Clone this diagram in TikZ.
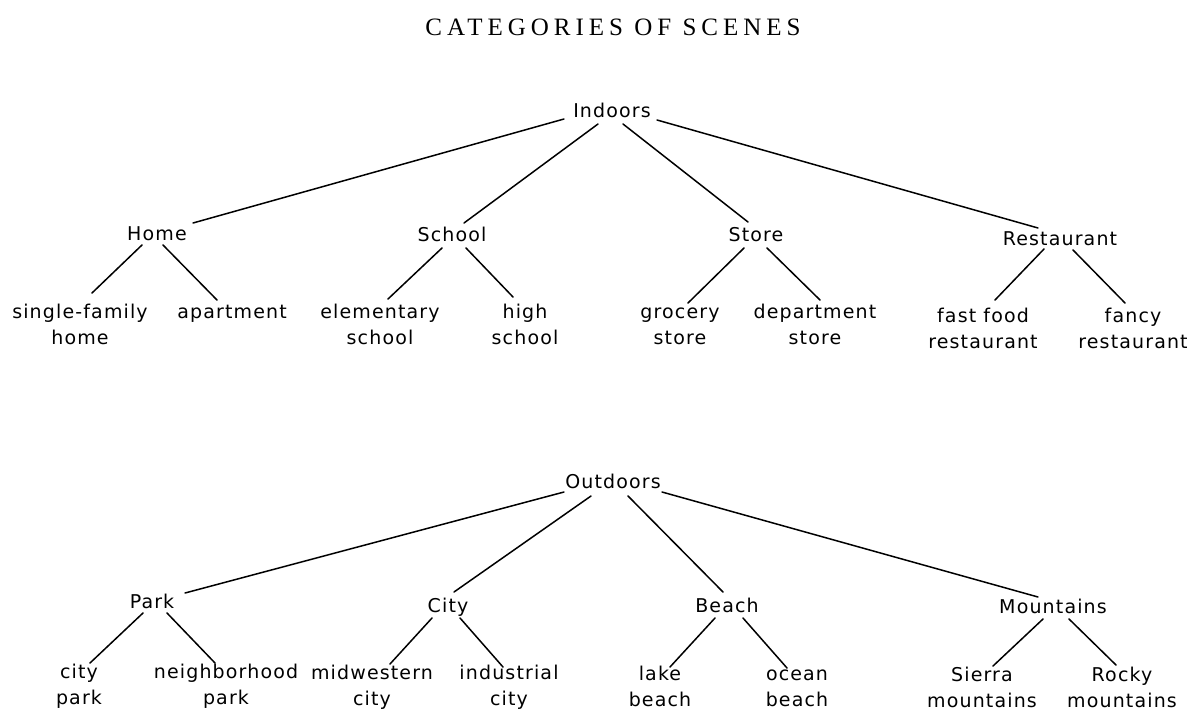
\documentclass[tikz,border=0pt]{standalone}
\usepackage{fontspec}
\newfontfamily\letteringfont{DejaVu Sans}[LetterSpace=6]
\newfontfamily\titlefont{Liberation Serif}[LetterSpace=20]
\begin{document}
\begin{tikzpicture}[x=1pt,y=-1pt,
  lbl/.style={font=\letteringfont\fontsize{19}{26}\selectfont, inner sep=0pt, anchor=base, align=center},
  ttl/.style={font=\titlefont\fontsize{25}{28}\selectfont, inner sep=0pt, anchor=base},
  link/.style={line width=1.5pt, line cap=round}]
\useasboundingbox (0,0) rectangle (1190,712);
\node[ttl] (title) at (613,35) {CATEGORIES OF SCENES};
% Indoors tree (two-line nodes are placed at the baseline of their last line)
\node[lbl] (Indoors) at (612,117) {Indoors};
\node[lbl] (Home) at (157,240) {Home};
\node[lbl] (School) at (452,241) {School};
\node[lbl] (Store) at (756,241) {Store};
\node[lbl] (Restaurant) at (1060,245) {Restaurant};
\node[lbl] (sfh) at (80,344) {single-family\\home};
\node[lbl] (apt) at (232,318) {apartment};
\node[lbl] (elem) at (380,344) {elementary\\school};
\node[lbl] (high) at (525,344) {high\\school};
\node[lbl] (groc) at (680,344) {grocery\\store};
\node[lbl] (dept) at (815,344) {department\\store};
\node[lbl] (fast) at (983,348) {fast food\\restaurant};
\node[lbl] (fancy) at (1133,348) {fancy\\restaurant};
\draw[link] ([shift={(-48,2)}]Indoors.base) -- ([shift={(36,-17)}]Home.base);
\draw[link] ([shift={(-14,7)}]Indoors.base) -- ([shift={(12,-18)}]School.base);
\draw[link] ([shift={(11,7)}]Indoors.base) -- ([shift={(-8,-19)}]Store.base);
\draw[link] ([shift={(45,3)}]Indoors.base) -- ([shift={(-22,-17)}]Restaurant.base);
\draw[link] ([shift={(-15,5)}]Home.base) -- ([shift={(12,-51)}]sfh.base);
\draw[link] ([shift={(6,5)}]Home.base) -- ([shift={(-15,-18)}]apt.base);
\draw[link] ([shift={(-10,7)}]School.base) -- ([shift={(8,-45)}]elem.base);
\draw[link] ([shift={(14,7)}]School.base) -- ([shift={(-12,-47)}]high.base);
\draw[link] ([shift={(-12,7)}]Store.base) -- ([shift={(8,-41)}]groc.base);
\draw[link] ([shift={(11,7)}]Store.base) -- ([shift={(5,-44)}]dept.base);
\draw[link] ([shift={(-16,4)}]Restaurant.base) -- ([shift={(12,-48)}]fast.base);
\draw[link] ([shift={(13,5)}]Restaurant.base) -- ([shift={(-8,-45)}]fancy.base);
% Outdoors tree
\node[lbl] (Outdoors) at (613,488) {Outdoors};
\node[lbl] (Park) at (152,608) {Park};
\node[lbl] (City) at (448,612) {City};
\node[lbl] (Beach) at (727,612) {Beach};
\node[lbl] (Mountains) at (1053,613) {Mountains};
\node[lbl] (cpark) at (79,704) {city\\park};
\node[lbl] (npark) at (226,704) {neighborhood\\park};
\node[lbl] (mwc) at (372,705) {midwestern\\city};
\node[lbl] (ind) at (509,705) {industrial\\city};
\node[lbl] (lake) at (660,706) {lake\\beach};
\node[lbl] (ocean) at (797,706) {ocean\\beach};
\node[lbl] (sierra) at (982,707) {Sierra\\mountains};
\node[lbl] (rocky) at (1122,707) {Rocky\\mountains};
\draw[link] ([shift={(-49,4)}]Outdoors.base) -- ([shift={(33,-15)}]Park.base);
\draw[link] ([shift={(-22,8)}]Outdoors.base) -- ([shift={(6,-20)}]City.base);
\draw[link] ([shift={(15,8)}]Outdoors.base) -- ([shift={(-4,-20)}]Beach.base);
\draw[link] ([shift={(49,4)}]Outdoors.base) -- ([shift={(-15,-16)}]Mountains.base);
\draw[link] ([shift={(-9,5)}]Park.base) -- ([shift={(11,-41)}]cpark.base);
\draw[link] ([shift={(15,5)}]Park.base) -- ([shift={(-11,-41)}]npark.base);
\draw[link] ([shift={(-16,6)}]City.base) -- ([shift={(18,-41)}]mwc.base);
\draw[link] ([shift={(12,6)}]City.base) -- ([shift={(-6,-38)}]ind.base);
\draw[link] ([shift={(-12,6)}]Beach.base) -- ([shift={(10,-39)}]lake.base);
\draw[link] ([shift={(16,6)}]Beach.base) -- ([shift={(-10,-38)}]ocean.base);
\draw[link] ([shift={(-10,6)}]Mountains.base) -- ([shift={(11,-41)}]sierra.base);
\draw[link] ([shift={(16,6)}]Mountains.base) -- ([shift={(-6,-42)}]rocky.base);
\end{tikzpicture}
\end{document}
